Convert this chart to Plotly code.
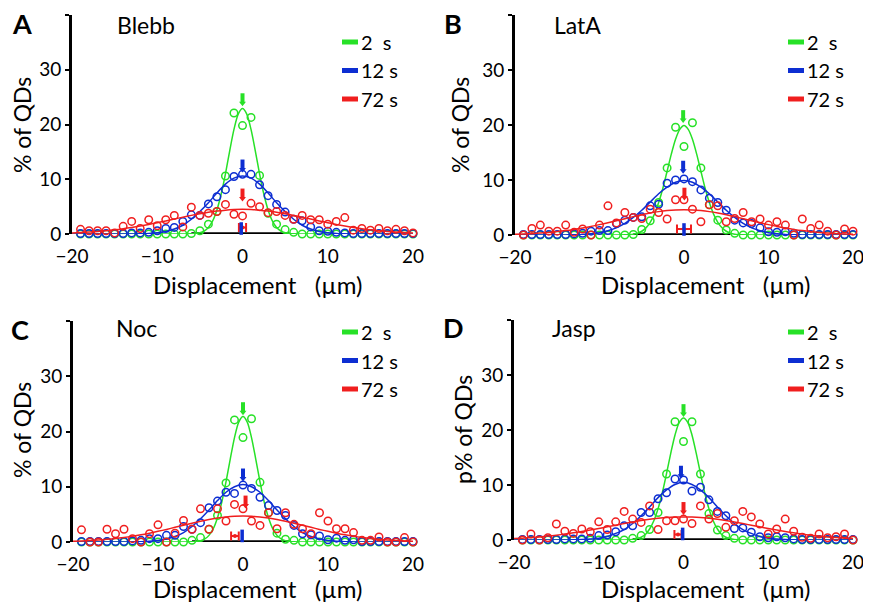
import plotly.graph_objects as go

# 参考图尺寸；页面 body 默认有 8px 边距，图本身相应缩小并整体左上移
REF_W, REF_H = 871, 602
PAGE_PAD = 8
W, H = REF_W - PAGE_PAD, REF_H - PAGE_PAD
FONT = "Lato, 'Noto Sans', sans-serif"
GREEN = "#27e127"
BLUE = "#0d2ed2"
RED = "#f01e1e"

# 横轴：数据点（1 µm 分箱）与拟合曲线的采样位置
PTS_X = list(range(-19, 21))
FIT_X = list(range(-20, 21))
FIT_X_NARROW = [-20, -7, -6, -5.5, -5, -4.5, -4, -3.5, -3, -2.5, -2, -1.5, -1, -0.5,
                0, 0.5, 1, 1.5, 2, 2.5, 3, 3.5, 4, 4.5, 5, 5.5, 6, 7, 20]
TICK_X = [-20, -10, 0, 10, 20]
TICK_Y = [0, 10, 20, 30, 40]
TICK_Y_TEXT = ["0", "10", "20", "30", ""]
LEGEND_LABELS = ["2\u00a0\u00a0s", "12 s", "72 s"]
PANEL_LETTERS = ["A", "B", "C", "D"]
PANEL_TITLES = ["Blebb", "LatA", "Noc", "Jasp"]
Y_TITLES = ["% of QDs", "% of QDs", "% of QDs", "p% of QDs"]
X_TITLE = "Displacement\u00a0\u00a0\u00a0(µm)"

# ---- A: Blebb ----
A_GREEN = [0, 0, 0, 0, 0, 0, 0, 0, 0, 0, 0, 0, 0, 0.1, 0.6, 1.8, 4.1, 10.6, 22.1, 19.8,
           21.3, 10.7, 3.8, 1.8, 0.8, 0.3, 0, 0, 0, 0, 0, 0, 0, 0, 0, 0, 0, 0, 0, 0]
A_BLUE = [0.1, 0.1, 0.1, 0.1, 0.1, 0.1, 0.2, 0.2, 0.3, 0.6, 1.0, 1.2, 2.3, 3.5, 3.4, 5.5,
          6.8, 8.1, 10.5, 10.9, 10.9, 9.0, 7.0, 5.4, 4.0, 2.7, 2.4, 1.3, 0.6, 0.5, 0.3,
          0.2, 0.1, 0.1, 0.1, 0.1, 0.1, 0.1, 0.1, 0.1]
A_RED = [0.85, 0.6, 0.6, 0.6, 0.2, 1.4, 2.3, 1.0, 2.6, 1.5, 2.6, 3.4, 1.3, 4.9, 3.4, 3.8,
         4.1, 5.4, 3.6, 3.3, 5.6, 5.0, 3.9, 4.1, 3.4, 2.7, 3.4, 2.6, 2.6, 1.8, 2.3, 3.0,
         0.7, 1.0, 0.7, 1.0, 0.6, 0.85, 0.6, 0.2]
A_GREEN_FIT = [0, 0, 0.03, 0.1, 0.23, 0.55, 1.2, 2.4, 4.4, 7.3, 11.0, 15.2, 19.1, 21.9, 22.9,
               21.9, 19.1, 15.2, 11.0, 7.3, 4.4, 2.4, 1.2, 0.55, 0.23, 0.1, 0.03, 0, 0]
A_BLUE_FIT = [0, 0, 0, 0, 0, 0, 0, 0, 0.04, 0.1, 0.23, 0.47, 0.9, 1.6, 2.7, 4.1, 5.7, 7.5,
              9.1, 10.2, 10.6, 10.2, 9.1, 7.5, 5.7, 4.1, 2.7, 1.6, 0.9, 0.47, 0.23, 0.1,
              0.04, 0, 0, 0, 0, 0, 0, 0, 0]
A_RED_FIT = [0.2, 0.27, 0.36, 0.47, 0.61, 0.77, 0.97, 1.2, 1.46, 1.75, 2.06, 2.39, 2.73,
             3.07, 3.4, 3.7, 3.97, 4.19, 4.36, 4.46, 4.5, 4.46, 4.36, 4.19, 3.97, 3.7, 3.4,
             3.07, 2.73, 2.39, 2.06, 1.75, 1.46, 1.2, 0.97, 0.77, 0.61, 0.47, 0.36, 0.27, 0.2]
A_ARROW_X = [0, 0, 0]
A_ARROW_Y = [23.4, 11.3, 6.0]
A_MEAN_RED = [0.0, 1.2, 0.42]   # x, y, ±
A_MEAN_BLUE = [-0.15, 1.0]

# ---- B: LatA ----
B_GREEN = [0, 0, 0, 0, 0, 0, 0, 0, 0, 0, 0, 0, 0, 0.1, 1.0, 2.6, 5.9, 12.2, 19.6, 16.1,
           20.4, 12.2, 5.5, 2.7, 0.9, 0.3, 0, 0, 0, 0, 0, 0, 0, 0, 0, 0, 0, 0, 0, 0]
B_BLUE = [0.1, 0.1, 0.1, 0.1, 0.1, 0.1, 0.2, 0.3, 0.7, 0.8, 0.8, 2.1, 2.7, 3.2, 3.3, 5.3,
          5.6, 9.4, 10.0, 10.2, 9.7, 8.2, 6.7, 5.9, 4.5, 2.7, 2.2, 2.1, 1.3, 0.6, 0.5,
          0.6, 0.3, 0.1, 0.1, 0.1, 0.1, 0.1, 0.1, 0.1]
B_RED = [0, 1.2, 1.8, 0.7, 0.7, 1.8, 0.5, 1.1, 0, 1.8, 5.3, 2.2, 4.1, 3.2, 3.0, 4.7, 4.1,
         2.9, 6.4, 6.4, 4.7, 2.4, 5.5, 5.3, 2.4, 3.0, 4.1, 2.4, 2.9, 1.8, 2.4, 1.8, 0, 2.9,
         1.2, 1.8, 0.7, 0, 1.1, 0.7]
B_GREEN_FIT = [0, 0.03, 0.15, 0.33, 0.68, 1.3, 2.3, 3.8, 5.9, 8.5, 11.6, 14.7, 17.4, 19.2,
               19.9, 19.2, 17.4, 14.7, 11.6, 8.5, 5.9, 3.8, 2.3, 1.3, 0.68, 0.33, 0.15,
               0.03, 0]
B_BLUE_FIT = [0, 0, 0, 0, 0, 0, 0.02, 0.05, 0.11, 0.23, 0.43, 0.79, 1.3, 2.1, 3.2, 4.5,
              6.0, 7.5, 8.7, 9.6, 9.9, 9.6, 8.7, 7.5, 6.0, 4.5, 3.2, 2.1, 1.3, 0.79, 0.43,
              0.23, 0.11, 0.05, 0.02, 0, 0, 0, 0, 0, 0]
B_RED_FIT = [0.13, 0.18, 0.25, 0.35, 0.47, 0.62, 0.8, 1.02, 1.28, 1.56, 1.89, 2.23, 2.6,
             2.97, 3.34, 3.68, 3.99, 4.25, 4.44, 4.56, 4.6, 4.56, 4.44, 4.25, 3.99, 3.68,
             3.34, 2.97, 2.6, 2.23, 1.89, 1.56, 1.28, 1.02, 0.8, 0.62, 0.47, 0.35, 0.25,
             0.18, 0.13]
B_ARROW_X = [-0.1, -0.1, 0.05]
B_ARROW_Y = [20.4, 11.2, 6.3]
B_MEAN_RED = [0.0, 1.1, 0.83]
B_MEAN_BLUE = [0.0, 1.0]

# ---- C: Noc ----
C_GREEN = [0, 0, 0, 0, 0, 0, 0, 0, 0, 0, 0, 0, 0, 0.3, 0.8, 2.3, 4.8, 10.7, 22.1, 18.9,
           22.3, 10.8, 5.3, 1.6, 0.5, 0.3, 0, 0, 0, 0, 0, 0, 0, 0, 0, 0, 0, 0, 0, 0]
C_BLUE = [0.1, 0.1, 0.1, 0.1, 0.1, 0.1, 0.2, 0.3, 0.6, 0.6, 1.2, 1.2, 2.8, 2.3, 3.5, 6.2,
          7.4, 9.0, 8.8, 10.3, 9.7, 8.1, 6.6, 5.7, 4.8, 3.0, 1.5, 1.3, 1.1, 0.4, 0.7, 0.3,
          0.4, 0.1, 0.1, 0.1, 0.1, 0.1, 0.1, 0.1]
C_RED = [2.2, 0, 0, 2.3, 1.5, 2.3, 0.6, 0, 1.5, 3.1, 0, 1.6, 3.9, 2.3, 6.0, 2.3, 6.0, 3.8,
         6.8, 6.0, 3.8, 3.0, 5.3, 2.4, 5.3, 3.2, 2.4, 1.5, 5.3, 3.8, 2.4, 2.4, 1.7, 0.3,
         0.3, 0.9, 0, 0, 0.8, 0]
C_GREEN_FIT = [0, 0, 0.03, 0.1, 0.23, 0.55, 1.2, 2.4, 4.4, 7.2, 10.9, 15.0, 18.9, 21.7,
               22.7, 21.7, 18.9, 15.0, 10.9, 7.2, 4.4, 2.4, 1.2, 0.55, 0.23, 0.1, 0.03,
               0, 0]
C_BLUE_FIT = [0, 0, 0, 0, 0, 0, 0, 0.02, 0.05, 0.13, 0.27, 0.54, 1.0, 1.7, 2.8, 4.2, 5.8,
              7.5, 9.0, 10.0, 10.4, 10.0, 9.0, 7.5, 5.8, 4.2, 2.8, 1.7, 1.0, 0.54, 0.27,
              0.13, 0.05, 0.02, 0, 0, 0, 0, 0, 0, 0]
C_RED_FIT = [0.13, 0.19, 0.26, 0.36, 0.48, 0.63, 0.82, 1.04, 1.3, 1.6, 1.93, 2.28, 2.66,
             3.04, 3.41, 3.76, 4.08, 4.34, 4.54, 4.66, 4.7, 4.66, 4.54, 4.34, 4.08, 3.76,
             3.41, 3.04, 2.66, 2.28, 1.93, 1.6, 1.3, 1.04, 0.82, 0.63, 0.48, 0.36, 0.26,
             0.19, 0.13]
C_ARROW_X = [0, 0, 0.3]
C_ARROW_Y = [23.0, 11.0, 6.1]
C_MEAN_RED = [-0.95, 1.1, 0.45]
C_MEAN_BLUE = [-0.1, 1.1]

# ---- D: Jasp ----
D_GREEN = [0, 0, 0, 0, 0, 0, 0, 0, 0, 0, 0, 0, 0, 0.3, 0.8, 1.9, 5.0, 12.0, 21.5, 17.9,
           21.5, 12.0, 4.8, 1.8, 0.8, 0.3, 0, 0, 0, 0, 0, 0, 0, 0, 0, 0, 0, 0, 0, 0]
D_BLUE = [0.1, 0.1, 0.1, 0.1, 0.1, 0.2, 0.2, 0.2, 0.3, 0.8, 0.9, 1.5, 2.6, 2.6, 5.0, 5.0,
          7.5, 8.6, 11.1, 10.9, 8.9, 9.6, 7.3, 5.2, 4.4, 2.1, 2.2, 1.4, 0.6, 0.4, 0.6, 0.4,
          0.2, 0.1, 0.1, 0.1, 0.1, 0.1, 0.1, 0.1]
D_RED = [0, 1.1, 0, 0.4, 2.9, 1.6, 1.2, 2.0, 1.5, 3.3, 1.9, 3.3, 5.2, 3.8, 3.2, 6.2, 1.9,
         3.5, 3.5, 3.8, 3.0, 6.2, 3.8, 4.8, 2.3, 3.5, 5.2, 4.2, 2.9, 1.1, 2.0, 3.8, 1.6,
         0.5, 0.3, 1.1, 0.4, 0.6, 1.1, 0]
D_GREEN_FIT = [0, 0.02, 0.1, 0.23, 0.5, 1.0, 2.0, 3.5, 5.7, 8.6, 12.1, 15.8, 19.1, 21.4,
               22.2, 21.4, 19.1, 15.8, 12.1, 8.6, 5.7, 3.5, 2.0, 1.0, 0.5, 0.23, 0.1,
               0.02, 0]
D_BLUE_FIT = [0, 0, 0, 0, 0, 0, 0, 0.03, 0.07, 0.16, 0.33, 0.64, 1.2, 1.9, 3.0, 4.4, 6.0,
              7.7, 9.1, 10.1, 10.5, 10.1, 9.1, 7.7, 6.0, 4.4, 3.0, 1.9, 1.2, 0.64, 0.33,
              0.16, 0.07, 0.03, 0, 0, 0, 0, 0, 0, 0]
D_RED_FIT = [0.26, 0.34, 0.44, 0.56, 0.71, 0.88, 1.08, 1.3, 1.55, 1.81, 2.1, 2.39, 2.69,
             2.99, 3.27, 3.53, 3.76, 3.94, 4.09, 4.17, 4.2, 4.17, 4.09, 3.94, 3.76, 3.53,
             3.27, 2.99, 2.69, 2.39, 2.1, 1.81, 1.55, 1.3, 1.08, 0.88, 0.71, 0.56, 0.44,
             0.34, 0.26]
D_ARROW_X = [0, -0.3, 0]
D_ARROW_Y = [22.4, 11.2, 4.6]
D_MEAN_RED = [-0.65, 1.0, 0.42]
D_MEAN_BLUE = [-0.1, 1.1]

PANELS = [
    dict(pts=[A_GREEN, A_BLUE, A_RED], fits=[A_GREEN_FIT, A_BLUE_FIT, A_RED_FIT],
         ax=A_ARROW_X, ay=A_ARROW_Y, red=A_MEAN_RED, blue=A_MEAN_BLUE),
    dict(pts=[B_GREEN, B_BLUE, B_RED], fits=[B_GREEN_FIT, B_BLUE_FIT, B_RED_FIT],
         ax=B_ARROW_X, ay=B_ARROW_Y, red=B_MEAN_RED, blue=B_MEAN_BLUE),
    dict(pts=[C_GREEN, C_BLUE, C_RED], fits=[C_GREEN_FIT, C_BLUE_FIT, C_RED_FIT],
         ax=C_ARROW_X, ay=C_ARROW_Y, red=C_MEAN_RED, blue=C_MEAN_BLUE),
    dict(pts=[D_GREEN, D_BLUE, D_RED], fits=[D_GREEN_FIT, D_BLUE_FIT, D_RED_FIT],
         ax=D_ARROW_X, ay=D_ARROW_Y, red=D_MEAN_RED, blue=D_MEAN_BLUE),
]

# 版面像素位置（参考图坐标）：绘图区 (左, 右, 上, 下)
DOMAIN_PX = [(72, 413, 15, 234), (515, 853, 15, 235), (73, 413, 321, 542), (514, 853, 320, 540)]
LETTER_PX = [(22, 24), (453, 24), (20, 329), (453, 327)]
TITLE_PX = [(115, 25), (552, 25), (114, 328), (550, 328)]
LEGEND_PX = [(342, 42), (788, 42), (342, 332), (788, 332)]
XTITLE_PX = [(258, 284), (706, 284), (258, 588), (706, 588)]
YTITLE_PX = [(22, 125), (460, 125), (22, 430), (463, 430)]
LEGEND_STEP = 28.5
COLORS = [GREEN, BLUE, RED]
FIT_XS = [FIT_X_NARROW, FIT_X, FIT_X]


def px_x(p):
    return (p - PAGE_PAD) / W


def px_y(p):
    return 1 - (p - PAGE_PAD) / H


fig = go.Figure()
shapes, annotations = [], []
layout_axes = {}

for i, panel in enumerate(PANELS):
    suf = "" if i == 0 else str(i + 1)
    xr, yr = "x" + suf, "y" + suf
    common = dict(xaxis=xr, yaxis=yr, showlegend=False, cliponaxis=False, hoverinfo="skip")

    for color, pts, fx, fy in zip(COLORS, panel["pts"], FIT_XS, panel["fits"]):
        fig.add_trace(go.Scatter(x=PTS_X, y=pts, mode="markers",
                                 marker=dict(symbol="circle-open", size=7.5, color=color,
                                             line=dict(width=1.5, color=color)), **common))
        fig.add_trace(go.Scatter(x=fx, y=fy, mode="lines",
                                 line=dict(color=color, width=1.5, shape="spline", smoothing=0.8),
                                 **common))

    # 峰值箭头
    for color, x, tip in zip(COLORS, panel["ax"], panel["ay"]):
        fig.add_trace(go.Scatter(x=[x], y=[tip + 0.5], mode="markers",
                                 marker=dict(symbol="triangle-down", size=6, color=color),
                                 error_y=dict(type="data", symmetric=False, array=[1.8], arrayminus=[0],
                                              color=color, thickness=4, width=0), **common))

    # 均值 ± 误差
    rx, ry, rsd = panel["red"]
    fig.add_trace(go.Scatter(x=[rx], y=[ry], mode="markers", marker=dict(size=4, color=RED),
                             error_x=dict(type="data", array=[rsd], color=RED, thickness=2, width=4.5),
                             **common))
    bx, by = panel["blue"]
    fig.add_trace(go.Scatter(x=[bx], y=[by], mode="markers",
                             marker=dict(symbol="line-ns", size=9, line=dict(width=3.5, color=BLUE)),
                             **common))

    x0, x1, yt, yb = DOMAIN_PX[i]
    tick_font = dict(family=FONT, size=19, color="black")
    layout_axes["xaxis" + suf] = dict(domain=[px_x(x0), px_x(x1)], range=[-20, 20], anchor=yr,
                                      automargin=False, showline=False, showgrid=False,
                                      zeroline=False, tickvals=TICK_X, ticks="outside", ticklen=5,
                                      tickcolor="rgba(0,0,0,0)", tickfont=tick_font)
    layout_axes["yaxis" + suf] = dict(domain=[px_y(yb), px_y(yt)], range=[0, 40], anchor=xr,
                                      automargin=False, showline=True, linewidth=3,
                                      linecolor="black", showgrid=False, zeroline=False,
                                      ticks="outside", ticklen=4, tickwidth=2, tickcolor="black",
                                      tickvals=TICK_Y, ticktext=TICK_Y_TEXT, tickfont=tick_font)

    # 横轴中段黑色粗线
    shapes.append(dict(type="line", xref=xr, yref=yr, x0=-6, x1=5.5, y0=0, y1=0,
                       line=dict(color="black", width=3.5), layer="below"))

    lx, ly = LEGEND_PX[i]
    for k, (color, label) in enumerate(zip(COLORS, LEGEND_LABELS)):
        yy = ly + k * LEGEND_STEP
        shapes.append(dict(type="line", xref="paper", yref="paper", x0=px_x(lx), x1=px_x(lx + 16),
                           y0=px_y(yy), y1=px_y(yy), line=dict(color=color, width=5)))
        annotations.append(dict(text=label, x=px_x(lx + 17), y=px_y(yy), xref="paper", yref="paper",
                                xanchor="left", yanchor="middle", showarrow=False,
                                font=dict(family=FONT, size=20, color="black")))

    tx, ty = LETTER_PX[i]
    annotations.append(dict(text="<b>%s</b>" % PANEL_LETTERS[i], x=px_x(tx), y=px_y(ty),
                            xref="paper", yref="paper", xanchor="center", yanchor="middle",
                            showarrow=False, font=dict(family=FONT, size=27, color="black")))
    tx, ty = TITLE_PX[i]
    annotations.append(dict(text=PANEL_TITLES[i], x=px_x(tx), y=px_y(ty), xref="paper", yref="paper",
                            xanchor="left", yanchor="middle", showarrow=False,
                            font=dict(family=FONT, size=23, color="black")))
    tx, ty = XTITLE_PX[i]
    annotations.append(dict(text=X_TITLE, x=px_x(tx), y=px_y(ty), xref="paper", yref="paper",
                            xanchor="center", yanchor="middle", showarrow=False, borderpad=0,
                            font=dict(family=FONT, size=24, color="black")))
    tx, ty = YTITLE_PX[i]
    annotations.append(dict(text=Y_TITLES[i], x=px_x(tx), y=px_y(ty), xref="paper", yref="paper",
                            xanchor="center", yanchor="middle", showarrow=False, textangle=-90,
                            font=dict(family=FONT, size=23, color="black")))

fig.update_layout(
    width=W, height=H,
    margin=dict(l=0, r=0, t=0, b=0),
    paper_bgcolor="white", plot_bgcolor="white",
    font=dict(family=FONT, color="black"),
    shapes=shapes, annotations=annotations,
    **layout_axes,
)

fig.write_html("out.html")
